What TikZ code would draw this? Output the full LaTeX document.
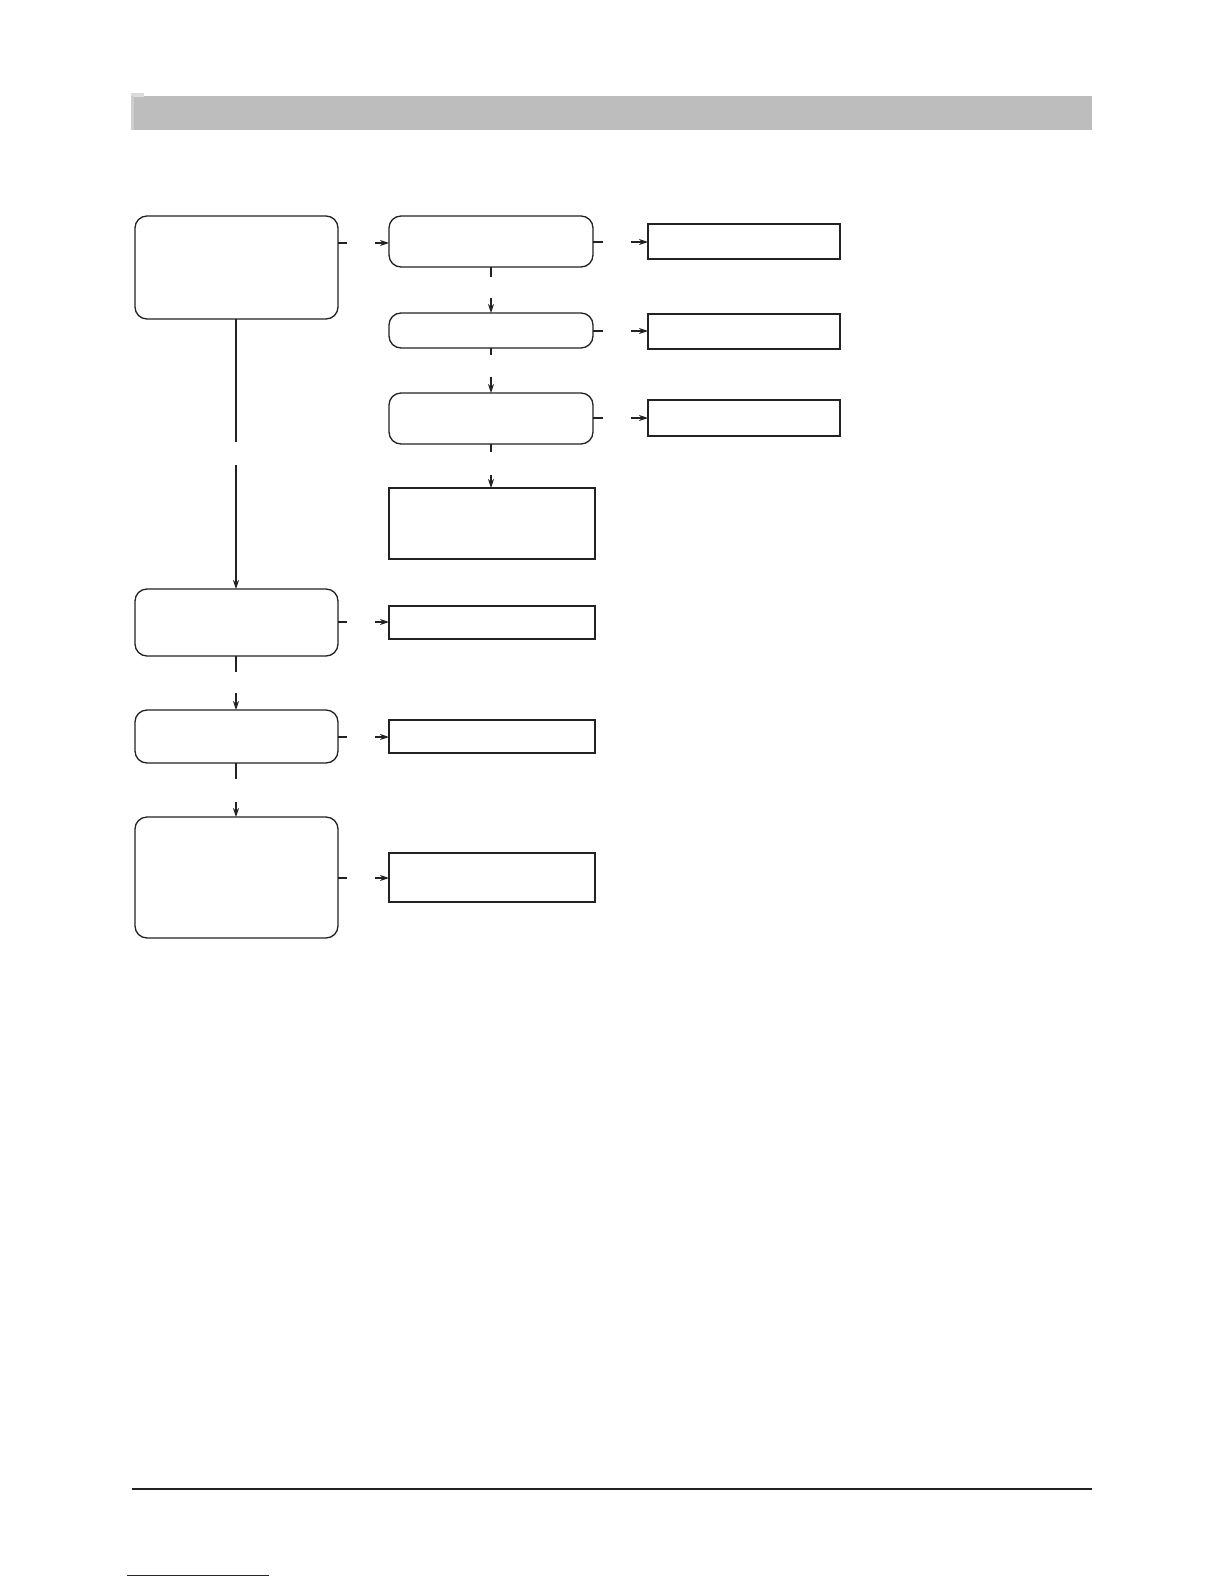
\documentclass[tikz,border=0pt]{standalone}
\usetikzlibrary{arrows.meta}
\definecolor{bargray}{HTML}{BDBDBD}
\definecolor{barlight}{HTML}{DCDCDC}
\definecolor{baredge}{HTML}{CECECE}
\definecolor{linkblue}{HTML}{1A1A8C}
\definecolor{ink}{HTML}{222222}
\tikzset{
  rbox/.style={draw=ink, line width=1.3pt, rounded corners=12pt, inner sep=0pt, outer sep=0pt},
  sbox/.style={draw=ink, line width=2pt, inner sep=0pt, outer sep=0pt},
  conn/.style={draw=ink, line width=1.1pt},
  arr/.style={conn, -{Stealth[length=9pt,width=6pt]}},
}
\newcommand{\boxat}[6]{%
  \node[#1, minimum width={#4-#3}, minimum height={#6-#5}] (#2) at ({(#3+#4)/2},{(#5+#6)/2}) {};}
\begin{document}
\begin{tikzpicture}[x=1pt,y=-1pt]
\useasboundingbox (0,0) rectangle (1224,1584);
% header bar
\fill[bargray] (132,96) rectangle (1092,130);
\fill[barlight] (131,93) rectangle (144,97);
\fill[baredge] (131,96) rectangle (134,130);
% footer rule and link
\draw[ink, line width=2pt] (132,1489) -- (1092,1489);
\draw[linkblue, line width=1pt] (127,1575) -- (269,1575);
% boxes
\boxat{rbox}{A}{135}{338}{216}{319}
\boxat{rbox}{B}{389}{593}{216}{267}
\boxat{rbox}{C}{389}{593}{313}{348}
\boxat{rbox}{D}{389}{593}{393}{444}
\boxat{sbox}{F}{389}{595}{488}{559}
\boxat{sbox}{R1}{648}{840}{224}{259}
\boxat{sbox}{R2}{648}{840}{314}{349}
\boxat{sbox}{R3}{648}{840}{400}{436}
\boxat{rbox}{E}{135}{338}{589}{656}
\boxat{sbox}{G}{389}{595}{606}{639}
\boxat{rbox}{H}{135}{338}{710}{763}
\boxat{sbox}{K}{389}{595}{720}{753}
\boxat{rbox}{I}{135}{338}{817}{938}
\boxat{sbox}{J}{389}{595}{853}{902}
% coordinates for broken connectors
\coordinate (ab1) at (347,243); \coordinate (ab2) at (375,243);
\coordinate (br1) at (603,242); \coordinate (br2) at (631,242);
\coordinate (bc1) at (491,277); \coordinate (bc2) at (491,298);
\coordinate (cr1) at (603,331); \coordinate (cr2) at (631,331);
\coordinate (cd1) at (491,355); \coordinate (cd2) at (491,377);
\coordinate (dr1) at (603,418); \coordinate (dr2) at (631,418);
\coordinate (df1) at (491,452); \coordinate (df2) at (491,475);
\coordinate (ae1) at (236,442); \coordinate (ae2) at (236,465);
\coordinate (eg1) at (347,622); \coordinate (eg2) at (375,622);
\coordinate (eh1) at (236,672); \coordinate (eh2) at (236,693);
\coordinate (hk1) at (347,737); \coordinate (hk2) at (375,737);
\coordinate (hi1) at (236,779); \coordinate (hi2) at (236,802);
\coordinate (ij1) at (347,878); \coordinate (ij2) at (375,878);
% connectors
\draw[conn] (A.east|-ab1) -- (ab1); \draw[arr] (ab2) -- (B.west|-ab2);
\draw[conn] (B.east|-br1) -- (br1); \draw[arr] (br2) -- (R1.west|-br2);
\draw[conn] (B.south-|bc1) -- (bc1); \draw[arr] (bc2) -- (C.north-|bc2);
\draw[conn] (C.east|-cr1) -- (cr1); \draw[arr] (cr2) -- (R2.west|-cr2);
\draw[conn] (C.south-|cd1) -- (cd1); \draw[arr] (cd2) -- (D.north-|cd2);
\draw[conn] (D.east|-dr1) -- (dr1); \draw[arr] (dr2) -- (R3.west|-dr2);
\draw[conn] (D.south-|df1) -- (df1); \draw[arr] (df2) -- (F.north-|df2);
\draw[conn] (A.south-|ae1) -- (ae1); \draw[arr] (ae2) -- (E.north-|ae2);
\draw[conn] (E.east|-eg1) -- (eg1); \draw[arr] (eg2) -- (G.west|-eg2);
\draw[conn] (E.south-|eh1) -- (eh1); \draw[arr] (eh2) -- (H.north-|eh2);
\draw[conn] (H.east|-hk1) -- (hk1); \draw[arr] (hk2) -- (K.west|-hk2);
\draw[conn] (H.south-|hi1) -- (hi1); \draw[arr] (hi2) -- (I.north-|hi2);
\draw[conn] (I.east|-ij1) -- (ij1); \draw[arr] (ij2) -- (J.west|-ij2);
\end{tikzpicture}
\end{document}
